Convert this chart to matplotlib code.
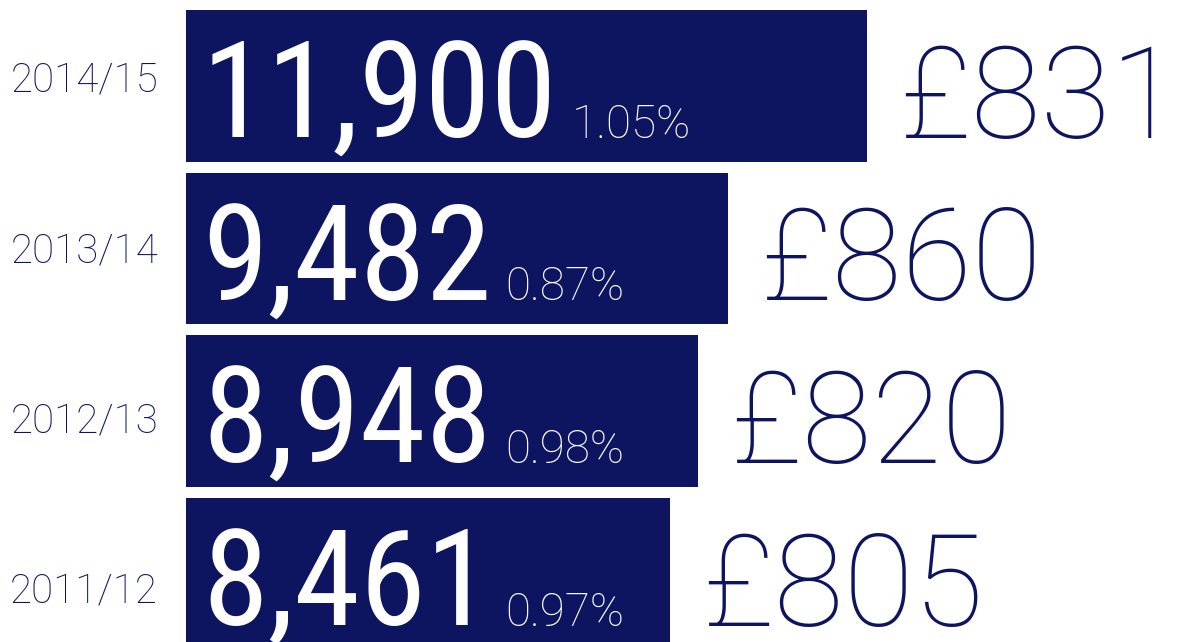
import matplotlib
matplotlib.use("Agg")
import matplotlib.pyplot as plt

# *** DATA
years = ["2014/15", "2013/14", "2012/13", "2011/12"]
counts = [11900, 9482, 8948, 8461]
shares = ["1.05%", "0.87%", "0.98%", "0.97%"]
avg_cost = [831, 860, 820, 805]

# *** STYLE
NAVY = "#0d1560"
BIG_FONT = ["Roboto Condensed", "Liberation Sans"]
THIN_FONT = ["Roboto", "DejaVu Sans"]

fig = plt.figure(figsize=(11.8, 6.42), dpi=100)
fig.patch.set_facecolor("white")

# axes starts where the bars start; x scale ~0.0572 px per unit
ax = fig.add_axes([186 / 1180, 0, 994 / 1180, 1])
ax.set_xlim(0, 994 / 0.0572)
ax.set_ylim(3.4215, -0.529)
ax.axis("off")

ax.barh(range(len(counts)), counts, height=0.935, color=NAVY, linewidth=0)

renderer = fig.canvas.get_renderer()

for i, (yr, n, pct, cost) in enumerate(zip(years, counts, shares, avg_cost)):
    # year label on the left (labels run on a slightly wider pitch than bars)
    ax.annotate(yr, xy=(0, i), xytext=(-28, -6 - 7.8 * i), textcoords="offset pixels",
                ha="right", va="baseline", fontsize=29, color=NAVY,
                family=THIN_FONT, fontweight="light", annotation_clip=False)

    # big count inside the bar
    big = ax.annotate(f"{n:,}", xy=(0, i), xytext=(16, -52), textcoords="offset pixels",
                      ha="left", va="baseline", fontsize=96, color="white",
                      family=BIG_FONT, annotation_clip=False)

    # percentage just after the count
    ext = big.get_window_extent(renderer)
    x0 = ax.transData.transform((0, i))[0]
    ax.annotate(pct, xy=(0, i), xytext=(ext.x1 - x0 + 14, -52), textcoords="offset pixels",
                ha="left", va="baseline", fontsize=33, color="white",
                family=THIN_FONT, fontweight="light", annotation_clip=False)

    # average cost to the right of the bar
    ax.annotate(f"£{cost}", xy=(n, i), xytext=(32, -52), textcoords="offset pixels",
                ha="left", va="baseline", fontsize=92, color=NAVY,
                family=THIN_FONT, fontweight="light", annotation_clip=False)

fig.savefig("out.png", dpi=100, facecolor="white")
